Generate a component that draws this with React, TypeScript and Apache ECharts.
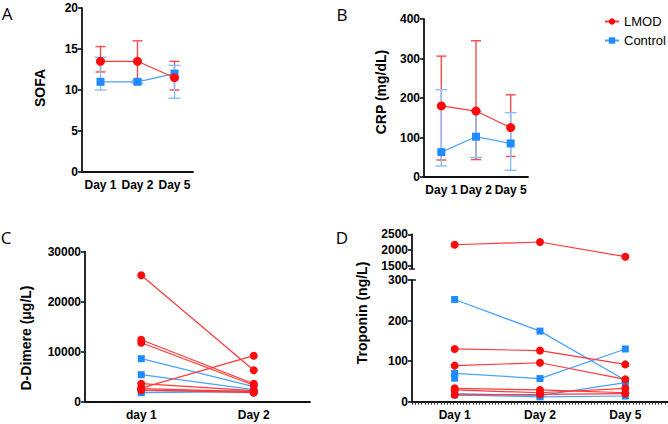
import React, { useEffect, useRef } from "react";
import * as echarts from "echarts";

// ---------- data ----------
const days = ["Day 1", "Day 2", "Day 5"];

const sofaLmod = [13.5, 13.5, 11.5];
const sofaLmodLow = [12.2, 10.8, 10];
const sofaLmodHigh = [15.3, 16, 13.5];
const sofaCtrl = [11, 11, 12];
const sofaCtrlLow = [10, 10.8, 9];
const sofaCtrlHigh = [14, 11.2, 13];

const crpLmod = [180, 167, 125];
const crpLmodLow = [43, 44, 52];
const crpLmodHigh = [306, 345, 208];
const crpCtrl = [63, 102, 85];
const crpCtrlLow = [28, 49, 17];
const crpCtrlHigh = [221, 167, 163];

const dimerDays = ["day 1", "Day 2"];
const dimerLmod = [
  [25300, 6300],
  [2700, 9200],
  [12400, 3600],
  [11800, 3300],
  [3600, 2200],
  [2600, 2000],
  [2300, 1800],
];
const dimerCtrl = [
  [8600, 3000],
  [5400, 2400],
  [2200, 2100],
  [1800, 2000],
];

const tropDays = ["Day 1", "Day 2", "Day 5"];
const tropLmodHigh = [2170, 2257, 1793];
const tropLmod = [
  [130, 126, 92],
  [89, 96, 55],
  [33, 29, 22],
  [29, 22, 33],
  [17, 18, 20],
];
const tropCtrl = [
  [252, 174, 53],
  [70, 57, 130],
  [58, null, null],
  [20, 15, 47],
  [17, 12, 14],
];

// ---------- styles ----------
const RED = "#ff0a0a";
const RED_LINE = "#ff3838";
const RED_ERR = "#ff4a4a";
const BLUE = "#1e8cff";
const BLUE_LINE = "#4aa2ff";
const BLUE_ERR = "#86c0ff";
const AXIS = "#111";
const FONT = "Liberation Sans";

const axisLine = { lineStyle: { color: AXIS, width: 1.8 } };
const axisTick = { length: 4, lineStyle: { color: AXIS, width: 1.6 } };
const yLabel = {
  color: "#000",
  fontWeight: "bold",
  fontSize: 12,
  fontFamily: FONT,
  margin: 4,
  formatter: (v: number) => String(v),
};
const xLabel = {
  color: "#000",
  fontWeight: "bold",
  fontSize: 12,
  fontFamily: FONT,
  margin: 7,
  interval: 0,
  hideOverlap: false,
};

function catX(gridIndex: number, data: string[]) {
  return {
    type: "category",
    gridIndex,
    data,
    boundaryGap: true,
    axisLine,
    axisTick: { ...axisTick, alignWithLabel: true, length: 5, interval: 0 },
    axisLabel: xLabel,
    splitLine: { show: false },
  };
}

function valY(gridIndex: number, min: number, max: number, interval: number) {
  return {
    type: "value",
    gridIndex,
    min,
    max,
    interval,
    axisLine: { ...axisLine, show: true },
    axisTick: { ...axisTick, show: true },
    axisLabel: yLabel,
    splitLine: { show: false },
  };
}

function errSeries(ai: number, low: number[], high: number[], color: string, capW: number) {
  return {
    type: "custom",
    xAxisIndex: ai,
    yAxisIndex: ai,
    data: low.map((l, i) => [i, l, high[i]]),
    encode: { x: 0, y: [1, 2] },
    silent: true,
    renderItem: (params: any, api: any) => {
      const x = api.value(0);
      const lo = api.coord([x, api.value(1)]);
      const hi = api.coord([x, api.value(2)]);
      const st = { stroke: color, lineWidth: 1.4 };
      return {
        type: "group",
        children: [
          { type: "line", shape: { x1: lo[0], y1: lo[1], x2: hi[0], y2: hi[1] }, style: st },
          { type: "line", shape: { x1: lo[0] - capW / 2, y1: lo[1], x2: lo[0] + capW / 2, y2: lo[1] }, style: st },
          { type: "line", shape: { x1: hi[0] - capW / 2, y1: hi[1], x2: hi[0] + capW / 2, y2: hi[1] }, style: st },
        ],
      };
    },
  };
}

function lineSeries(name: string, ai: number, data: any[], isRed: boolean, size: number) {
  return {
    type: "line",
    name,
    xAxisIndex: ai,
    yAxisIndex: ai,
    data,
    symbol: isRed ? "circle" : "rect",
    symbolSize: isRed ? size : size - 1,
    itemStyle: { color: isRed ? RED : BLUE },
    lineStyle: { color: isRed ? RED_LINE : BLUE_LINE, width: 1.2 },
    connectNulls: false,
  };
}

function letter(t: string, x: number, y: number) {
  return {
    type: "text",
    x,
    y,
    style: { text: t, font: "17px Open Sans", fill: "#000", align: "center", verticalAlign: "middle" },
  };
}

function yTitle(t: string, x: number, y: number) {
  return {
    type: "text",
    x,
    y,
    rotation: Math.PI / 2,
    style: { text: t, font: "bold 14px Liberation Sans", fill: "#000", align: "center", verticalAlign: "middle" },
  };
}

export default function App() {
  const ref = useRef<HTMLDivElement>(null);
  useEffect(() => {
    if (!ref.current) return;
    const chart = echarts.init(ref.current, undefined, { renderer: "svg" });

    const series: any[] = [
      // Panel A
      errSeries(0, sofaLmodLow, sofaLmodHigh, RED_ERR, 10),
      errSeries(0, sofaCtrlLow, sofaCtrlHigh, BLUE_ERR, 12),
      lineSeries("Control", 0, sofaCtrl, false, 9),
      lineSeries("LMOD", 0, sofaLmod, true, 9),
      // Panel B
      errSeries(1, crpLmodLow, crpLmodHigh, RED_ERR, 10),
      errSeries(1, crpCtrlLow, crpCtrlHigh, BLUE_ERR, 12),
      lineSeries("Control", 1, crpCtrl, false, 9),
      lineSeries("LMOD", 1, crpLmod, true, 9),
    ];
    // Panel C
    dimerCtrl.forEach((d) => series.push(lineSeries("Control", 2, d, false, 8)));
    dimerLmod.forEach((d) => series.push(lineSeries("LMOD", 2, d, true, 8)));
    // Panel D
    series.push(lineSeries("LMOD", 3, tropLmodHigh, true, 8));
    tropCtrl.forEach((d) => series.push(lineSeries("Control", 4, d, false, 8)));
    tropLmod.forEach((d) => series.push(lineSeries("LMOD", 4, d, true, 8)));

    const option: any = {
      animation: false,
      backgroundColor: "#fff",
      grid: [
        { left: 82, top: 8, width: 111, height: 164 },
        { left: 424, top: 19, width: 104, height: 158 },
        { left: 85, top: 251.7, width: 225, height: 150 },
        { left: 412, top: 234.3, width: 258, height: 31.7 },
        { left: 412, top: 280, width: 258, height: 121.7 },
      ],
      xAxis: [
        catX(0, days),
        catX(1, days),
        catX(2, dimerDays),
        { ...catX(3, tropDays), show: false },
        catX(4, tropDays),
        {
          type: "value",
          gridIndex: 4,
          min: 0,
          max: 100,
          interval: 10,
          position: "bottom",
          axisLine: { show: false },
          axisTick: { show: true, length: 3, lineStyle: { color: "#333", width: 1 } },
          minorTick: { show: true, splitNumber: 8, length: 3, lineStyle: { color: "#333", width: 1 } },
          axisLabel: { show: false },
          splitLine: { show: false },
        },
      ],
      yAxis: [
        valY(0, 0, 20, 5),
        valY(1, 0, 400, 100),
        valY(2, 0, 30000, 10000),
        valY(3, 1500, 2500, 500),
        valY(4, 0, 300, 100),
      ],
      legend: {
        data: ["LMOD", "Control"],
        orient: "vertical",
        left: 604,
        top: 15,
        padding: 0,
        itemWidth: 14,
        itemHeight: 8,
        itemGap: 6,
        textStyle: { fontSize: 13, fontFamily: FONT, color: "#000" },
      },
      graphic: [
        letter("A", 7, 13),
        letter("B", 342, 14),
        letter("C", 6, 237),
        letter("D", 342, 237),
        yTitle("SOFA", 40, 88),
        yTitle("CRP (mg/dL)", 381, 92),
        yTitle("D-Dimere (\u03bcg/L)", 25.5, 338),
        yTitle("Troponin (ng/L)", 362, 313),
        { type: "line", shape: { x1: 412, y1: 265, x2: 412, y2: 269 }, style: { stroke: AXIS, lineWidth: 1.8 } },
        { type: "line", shape: { x1: 409, y1: 269, x2: 415, y2: 269 }, style: { stroke: AXIS, lineWidth: 1.4 } },
        { type: "line", shape: { x1: 412, y1: 280, x2: 416, y2: 280 }, style: { stroke: AXIS, lineWidth: 1.4 } },
      ],
      series,
    };
    chart.setOption(option);
    return () => chart.dispose();
  }, []);
  return (
    <div
      ref={ref}
      style={{ position: "fixed", left: 0, top: 0, width: 668, height: 424, background: "#fff" }}
    />
  );
}
